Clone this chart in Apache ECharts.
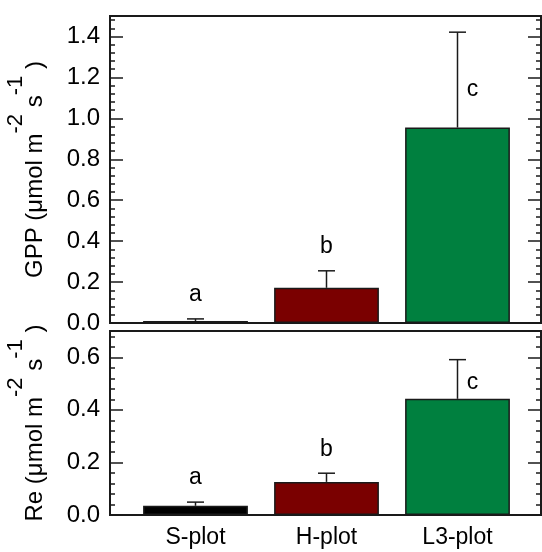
<!DOCTYPE html>
<html>
<head>
<meta charset="utf-8">
<script src="https://cdn.jsdelivr.net/npm/echarts@6/dist/echarts.min.js"></script>
<style>
html,body{margin:0;padding:0;background:#fff;}
#chart{width:542px;height:552px;}
</style>
</head>
<body>
<div id="chart"></div>
<script>
const categories = ['S-plot', 'H-plot', 'L3-plot'];
const gppMean = [0.010, 0.172, 0.955];
const gppErr = [0.010, 0.083, 0.466];
const gppLetters = ['a', 'b', 'c'];
const reMean = [0.035, 0.126, 0.442];
const reErr = [0.014, 0.033, 0.149];
const reLetters = ['a', 'b', 'c'];
const barColors = ['#000000', '#7a0000', '#00803f'];
const gppAxis = { min: 0, max: 1.5, major: 0.2, minor: 0.04 };
const reAxis = { min: 0, max: 0.7, major: 0.2, minor: 0.04 };

const FONT = "'Liberation Sans', Arial, sans-serif";
const INK = '#1a1a1a';

const chart = echarts.init(document.getElementById('chart'), null, { renderer: 'canvas' });

const frameGrid = (top, height) => ({ left: 110, right: 1, top: top, height: height, outerBoundsMode: 'none', containLabel: false,
  show: true, borderColor: INK, borderWidth: 2, backgroundColor: 'transparent' });
const dataGrid = (top, height) => ({ left: 130, right: 19, top: top, height: height, outerBoundsMode: 'none', containLabel: false });

function nameRich() {
  return {
    h: { fontSize: 2, fontFamily: FONT, color: 'rgba(0,0,0,0)', lineHeight: 42, verticalAlign: 'middle' },
    n: { fontSize: 24, fontFamily: FONT, color: '#000', lineHeight: 26, verticalAlign: 'bottom' },
    s: { fontSize: 22, fontFamily: FONT, color: '#000', lineHeight: 21, verticalAlign: 'top' }
  };
}

function yAxes(grid, ax, name) {
  const tickStyle = { color: INK, width: 1.5 };
  return [
    { gridIndex: grid, type: 'value', min: ax.min, max: ax.max, interval: ax.major, position: 'left',
      axisLine: { show: false }, splitLine: { show: false },
      axisTick: { show: true, inside: true, length: 13, lineStyle: tickStyle },
      axisLabel: { show: true, fontSize: 24, fontFamily: FONT, color: '#000', margin: 10, showMaxLabel: false,
        formatter: v => v.toFixed(1) },
      name: name, nameLocation: 'middle', nameGap: 63, nameRotate: 90,
      nameTextStyle: { rich: nameRich() } },
    { gridIndex: grid, type: 'value', min: ax.min, max: ax.max, interval: ax.minor, position: 'left',
      axisLine: { show: false }, splitLine: { show: false }, axisLabel: { show: false },
      axisTick: { show: true, inside: true, length: 5, lineStyle: tickStyle } },
    { gridIndex: grid, type: 'value', min: ax.min, max: ax.max, interval: ax.major, position: 'right',
      axisLine: { show: false }, splitLine: { show: false }, axisLabel: { show: false },
      axisTick: { show: true, inside: true, length: 13, lineStyle: tickStyle } },
    { gridIndex: grid, type: 'value', min: ax.min, max: ax.max, interval: ax.minor, position: 'right',
      axisLine: { show: false }, splitLine: { show: false }, axisLabel: { show: false },
      axisTick: { show: true, inside: true, length: 5, lineStyle: tickStyle } }
  ];
}

function hiddenY(grid, ax) {
  return { gridIndex: grid, type: 'value', min: ax.min, max: ax.max, show: false };
}

function errRender(letters) {
  return function (params, api) {
    const i = api.value(0), m = api.value(1), e = api.value(2);
    const base = api.coord([i, m]);
    const top = api.coord([i, m + e]);
    const half = 8.5;
    const style = { stroke: INK, lineWidth: 1.5 };
    const children = [
      { type: 'line', shape: { x1: base[0], y1: base[1], x2: top[0], y2: top[1] }, style: style },
      { type: 'line', shape: { x1: top[0] - half, y1: top[1], x2: top[0] + half, y2: top[1] }, style: style }
    ];
    const len = base[1] - top[1];
    let tx, ty;
    if (len > 30) { tx = top[0] + 15; ty = base[1] - len * 0.40; }
    else { tx = top[0]; ty = top[1] - 24; }
    children.push({ type: 'text', style: { text: letters[params.dataIndex], x: tx, y: ty,
      align: 'center', verticalAlign: 'middle', fontSize: 23, fontFamily: FONT, fill: '#000' } });
    return { type: 'group', children: children };
  };
}

function barData(vals) {
  return vals.map((v, i) => ({ value: v, itemStyle: { color: barColors[i] } }));
}

const topTop = 16, topH = 307, botTop = 331, botH = 184;

const yTop = yAxes(0, gppAxis, '{h|\u200b}{n|GPP (μmol m}{s|-2}{n| s}{s|-1}{n| )}');
const yBot = yAxes(2, reAxis, '{h|\u200b}{n|Re (μmol m}{s|-2}{n| s}{s|-1}{n| )}');

const option = {
  animation: false,
  backgroundColor: '#ffffff',
  grid: [frameGrid(topTop, topH), dataGrid(topTop, topH), frameGrid(botTop, botH), dataGrid(botTop, botH)],
  xAxis: [
    { gridIndex: 0, type: 'value', min: 0, max: 1, show: false },
    { gridIndex: 1, type: 'category', data: categories, axisLine: { show: false }, axisTick: { show: false }, axisLabel: { show: false } },
    { gridIndex: 2, type: 'value', min: 0, max: 1, show: false },
    { gridIndex: 3, type: 'category', data: categories, axisLine: { show: false }, axisTick: { show: false },
      axisLabel: { show: true, fontSize: 23, fontFamily: FONT, color: '#000', margin: 11 } }
  ],
  yAxis: [].concat(yTop, [hiddenY(1, gppAxis)], yBot, [hiddenY(3, reAxis)]),
  series: [
    { type: 'bar', xAxisIndex: 1, yAxisIndex: 4, barWidth: '80%', data: barData(gppMean),
      itemStyle: { borderColor: INK, borderWidth: 1.5 } },
    { type: 'custom', xAxisIndex: 1, yAxisIndex: 4, clip: false, renderItem: errRender(gppLetters),
      data: gppMean.map((v, i) => [i, v, gppErr[i]]), z: 5 },
    { type: 'bar', xAxisIndex: 3, yAxisIndex: 9, barWidth: '80%', data: barData(reMean),
      itemStyle: { borderColor: INK, borderWidth: 1.5 } },
    { type: 'custom', xAxisIndex: 3, yAxisIndex: 9, clip: false, renderItem: errRender(reLetters),
      data: reMean.map((v, i) => [i, v, reErr[i]]), z: 5 }
  ]
};
chart.setOption(option);
</script>
</body>
</html>
